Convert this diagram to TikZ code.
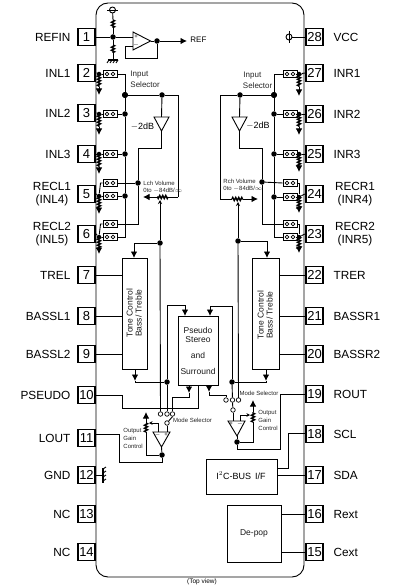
\documentclass[tikz,border=0pt]{standalone}
\usepackage{fontspec}
\setmainfont{Liberation Sans}
\usetikzlibrary{arrows.meta,decorations.pathmorphing}
\tikzset{
  x=1pt,y=-1pt,
  every path/.style={line width=0.9pt},
  pinbox/.style={draw,line width=1.8pt,minimum width=17.5pt,minimum height=17pt,inner sep=0pt,font=\fontsize{13}{14}\selectfont,fill=white},
  pinlab/.style={font=\fontsize{11.8}{13.5}\selectfont,align=center,inner sep=0pt},
  sel/.style={font=\fontsize{8}{9}\selectfont,inner sep=0pt,text=black!85},
  tiny/.style={font=\fontsize{6}{7}\selectfont,inner sep=0pt,text=black!85},
  small/.style={font=\fontsize{8.5}{10}\selectfont,inner sep=0pt,text=black!90},
  jn/.style={circle,fill=black,inner sep=0pt,minimum size=5.5pt},
  oc/.style={circle,draw,fill=white,inner sep=0pt,minimum size=4.5pt,line width=0.7pt},
  swbox/.style={draw,minimum width=14pt,minimum height=6.5pt,inner sep=0pt,line width=0.9pt},
  block/.style={draw,inner sep=0pt,line width=0.9pt},
  zz/.style={decorate,decoration={zigzag,amplitude=1.6pt,segment length=3pt},line width=1.4pt},
  arr/.style={-{Latex[length=6.5pt,width=6.5pt]}},
  amp/.style={draw,line width=0.9pt,fill=white},
}
\newcommand{\swi}[3]{\node[swbox] (#1) at (#2,#3) {};
  \draw[line width=0.7pt] ([xshift=-3pt]#1.center) circle[radius=1.9pt] ([xshift=3pt]#1.center) circle[radius=1.9pt];}
\newcommand{\resdown}[2]{% node, tip distance
  \path (#1) coordinate (tmpa);
  \draw[zz] (tmpa) -- ([yshift=-13pt]tmpa);
  \draw[arr] ([yshift=-13pt]tmpa) -- ([yshift=-#2pt]tmpa);}
\begin{document}
\begin{tikzpicture}
\useasboundingbox (0,0) rectangle (401,585);
\fill[white] (0,0) rectangle (401,585);
% package
\draw[line width=0.9pt,rounded corners=12pt] (96,3) rectangle (304,577);
% left pins
\foreach \n/\yy in {1/37,2/73,3/113,4/154,5/194,6/234,7/275,8/316,9/354,10/395,11/438,12/475,13/514,14/552}
  \node[pinbox] (p\n) at (86.5,\yy) {\n};
% right pins
\foreach \n/\yy in {28/37,27/73,26/114,25/154,24/194,23/234,22/275,21/316,20/354,19/394,18/434,17/475,16/514,15/552}
  \node[pinbox] (p\n) at (314.5,\yy) {\n};
% left labels
\foreach \n/\t in {1/REFIN,2/INL1,3/INL2,4/INL3,7/TREL,8/BASSL1,9/BASSL2,10/PSEUDO,11/LOUT,12/GND,13/NC,14/NC}
  \node[pinlab,anchor=east] (ll\n) at ([xshift=-6pt]p\n.west) {\t};
\node[pinlab] (ll5) at (52,194) {RECL1\\(INL4)};
\node[pinlab] (ll6) at (52,234) {RECL2\\(INL5)};
% right labels
\foreach \n/\t in {28/VCC,27/INR1,26/INR2,25/INR3,22/TRER,21/BASSR1,20/BASSR2,19/ROUT,18/SCL,17/SDA,16/Rext,15/Cext}
  \node[pinlab,anchor=west] (rl\n) at ([xshift=9pt]p\n.east) {\t};
\node[pinlab] (rl24) at (355,194) {RECR1\\(INR4)};
\node[pinlab] (rl23) at (355,234) {RECR2\\(INR5)};
% reference section
\node[circle,draw,inner sep=0pt,minimum size=6pt] (vt) at (112.5,10) {};
\draw (107,10) -- (118,10);
\node[jn] (j1) at (113,37) {};
\coordinate (g1) at (113,60);
\draw (p1.east) -- (j1);
\draw (vt) -- (113,20); \draw (113,28) -- (j1);
\draw[zz] (113,20) -- (113,28);
\draw (j1) -- (113,45); \draw (113,53) -- (g1);
\draw[zz] (113,45) -- (113,53);
\draw[line width=1.2pt] (108,60) -- (118,60);
\foreach \q in {109,112,115,118} \draw (\q,60) -- (\q-2,63);
\draw[amp] (133,32) -- (150.5,41) -- (133,50) -- cycle;
\node[font=\fontsize{6}{6}\selectfont,inner sep=0pt] (pl) at (136,37) {+};
\node[font=\fontsize{6}{6}\selectfont,inner sep=0pt] (mi) at (136,45.5) {$-$};
\node[jn] (j2) at (157,41) {};
\coordinate (refc) at (187,41);
\draw (j1) -- (133,37);
\draw (150.5,41) -- (j2);
\draw[arr] (j2) -- (refc);
\draw (j2) -- (157,58) -- (125,58) -- (125,46) -- (133,46);
\node[font=\fontsize{8}{9}\selectfont,inner sep=0pt,anchor=west] (reft) at (190,40) {REF};
% VCC
\node[circle,draw,inner sep=0pt,minimum size=6pt] (vc) at (289,37) {};
\draw (289,31) -- (289,43);
\draw (vc) -- (p28.west);
% left input switches
\foreach \n/\yy in {2/74,3/114,4/154,5/196,6/237} {
  \node[jn,minimum size=4.5pt] (pj\n) at (99,\yy) {};
}
\draw (p2.east) -- (pj2); \draw (p3.east) -- (pj3); \draw (p4.east) -- (pj4);
\draw (p5.east) -- (pj5); \draw (p6.east) -- (pj6);
\swi{sa}{110}{74}\swi{sb}{110}{114}\swi{sc}{110}{154}\swi{sd}{110}{183}\swi{se}{110}{196}\swi{sf}{110}{224}\swi{sg}{110}{237}
\draw (pj2) -- (sa.west); \draw (pj3) -- (sb.west); \draw (pj4) -- (sc.west); \draw (pj5) -- (se.west); \draw (pj6) -- (sg.west);
\draw (sd.west) -- (100.5,183) -- (pj5); \draw (sf.west) -- (100.5,224) -- (pj6);
\foreach \a/\b in {pj2/21,pj3/21,pj4/20,pj5/18,pj6/17} \resdown{\a}{\b}
% left bus
\node[jn] (ba) at (125,95) {};
\node[jn] (bb) at (125,114) {};
\node[jn] (bc) at (125,154) {};
\node[jn] (bd) at (125,196) {};
\draw (sa.east) -- (125,74) -- (ba) -- (bb) -- (bc) -- (bd) -- (125,237) -- (sg.east);
\draw (sb.east) -- (bb); \draw (sc.east) -- (bc); \draw (se.east) -- (bd);
\node[jn] (bt) at (162,95) {};
\draw (ba) -- (bt) -- (178,95) -- (178,197) coordinate (volr);
\draw[amp] (154,117) -- (169,117) -- (161.5,131) -- cycle;
\draw (bt) -- (161.5,117);
\node[jn] (be) at (138,183) {};
\draw (161.5,131) -- (161.5,148) -- (138,148) -- (be) -- (138,224) -- (sf.east);
\draw (sd.east) -- (be);
\node[font=\fontsize{9}{9}\selectfont,inner sep=0pt] (dbl) at (142.5,127) {$-$2dB};
\node[sel,anchor=west] (isl1) at (130,75) {Input};
\node[sel,anchor=west] (isl2) at (130,85) {Selector};
\node[tiny,anchor=west] (lv1) at (143,183) {Lch Volume};
\node[tiny,anchor=west] (lv2) at (143,190.5) {0to $-$84dB/$\infty$};
% left volume
\coordinate (lvm) at (168,197);
\draw (volr) -- (lvm);
\draw[zz] (lvm) -- (157,197);
\draw[arr] (157,197) -- (143,197);
\node[jn] (lw) at (160,243) {};
\draw[-{Stealth[length=4pt,width=4pt,open]}] (lw) -- (160,200);
\draw[arr] (lw) -- (134,243) -- (134,258);
% right input switches
\foreach \n/\yy in {27/74,26/114,25/154,24/197,23/237} {
  \node[jn,minimum size=4.5pt] (pj\n) at (299,\yy) {};
}
\draw (p27.west) -- (pj27); \draw (p26.west) -- (pj26); \draw (p25.west) -- (pj25);
\draw (p24.west) -- (pj24); \draw (p23.west) -- (pj23);
\swi{ra}{290}{74}\swi{rb}{290}{114}\swi{rc}{290}{154}\swi{rd}{290}{183}\swi{re}{290}{197}\swi{rf}{290}{224}\swi{rg}{290}{237}
\draw (pj27) -- (ra.east); \draw (pj26) -- (rb.east); \draw (pj25) -- (rc.east); \draw (pj24) -- (re.east); \draw (pj23) -- (rg.east);
\draw (rd.east) -- (299,183) -- (pj24); \draw (rf.east) -- (299,224) -- (pj23);
\foreach \a/\b in {pj27/22,pj26/21,pj25/18,pj24/16,pj23/16} \resdown{\a}{\b}
\node[jn] (ca) at (274,95) {};
\node[jn] (cb) at (274,114) {};
\node[jn] (cc) at (274,154) {};
\node[jn] (cd) at (274,197) {};
\draw (ra.west) -- (274,74) -- (ca) -- (cb) -- (cc) -- (cd) -- (274,237) -- (rg.west);
\draw (rb.west) -- (cb); \draw (rc.west) -- (cc); \draw (re.west) -- (cd);
\node[jn] (ct) at (240,95) {};
\draw (ca) -- (ct) -- (220,95) -- (220,199) -- (232,199) coordinate (rvl);
\draw[amp] (232,117) -- (247,117) -- (239.5,131) -- cycle;
\draw (ct) -- (239.5,117);
\node[jn] (ce) at (262,182) {};
\draw (239.5,131) -- (239.5,148) -- (262,148) -- (ce) -- (262,224) -- (rf.west);
\draw (rd.west) -- (ce);
\node[font=\fontsize{9}{9}\selectfont,inner sep=0pt] (dbr) at (258,126) {$-$2dB};
\node[sel,anchor=west] (isr1) at (243,76) {Input};
\node[sel,anchor=west] (isr2) at (242.5,86) {Selector};
\node[tiny,anchor=west] (rv1) at (223,181) {Rch Volume};
\node[tiny,anchor=west] (rv2) at (223,188.5) {0to $-$84dB/$\infty$};
\draw[zz] (rvl) -- (243,199);
\draw[arr] (243,199) -- (258,199);
\node[jn] (rw) at (238,241) {};
\draw[-{Stealth[length=4pt,width=4pt,open]}] (rw) -- (238,202);
\draw[arr] (rw) -- (267,241) -- (267,258);
% tone blocks
\node[block,minimum width=25pt,minimum height=111pt,anchor=north west] (tl) at (122,258) {};
\node[block,minimum width=27pt,minimum height=111pt,anchor=north west] (tr) at (252,258) {};
\node[small,rotate=90,align=center,font=\fontsize{8.5}{9}\selectfont] (tlt) at (134,313) {Tone Control\\Bass/ Treble};
\node[small,rotate=90,align=center,font=\fontsize{8.5}{9}\selectfont] (trt) at (265,315) {Tone Control\\Bass/ Treble};
\draw (p7.east) -- (122,275); \draw (p8.east) -- (122,316); \draw (p9.east) -- (122,354);
\draw (p22.west) -- (279,275); \draw (p21.west) -- (279,316); \draw (p20.west) -- (279,354);
% pseudo block
\node[block,minimum width=40pt,minimum height=69pt,anchor=north west] (ps) at (178,316) {};
\node[small] (pst1) at (198,330) {Pseudo};
\node[small] (pst2) at (198,340) {Stereo};
\node[small] (pst3) at (198,355) {and};
\node[small] (pst4) at (198,371) {Surround};
\node[jn] (jl) at (167,382) {};
\node[jn] (jr) at (232,382) {};
\draw[arr] (135,369) -- (135,381);
\draw (135,381) -- (135,382) -- (jl);
\draw[arr] (jl) -- (167,305) -- (185,305) -- (185,316);
\draw[arr] (266,369) -- (266,381);
\draw (266,381) -- (266,382) -- (jr);
\draw[arr] (jr) -- (232,306) -- (210,306) -- (210,316);
% mode selector left
\node[oc] (ml1) at (160.5,414) {};
\node[oc] (ml2) at (167,414) {};
\node[oc] (ml3) at (172.5,414) {};
\node[oc] (ml4) at (167,423) {};
\draw (lw) -- (ml1); \draw (160,205) -- (lw);
\draw (jl) -- (ml2);
\draw[arr] (189,385) -- (189,393);
\draw (189,393) -- (189,397) -- (172.5,397) -- (ml3);
\draw (ml4) -- (ml3.south);
\draw (p10.east) -- (122,395) -- (122,408) -- (198,408) -- (198,385);
% mode selector right
\node[oc] (mr1) at (226,400) {};
\node[oc] (mr2) at (232.5,400) {};
\node[oc] (mr3) at (238.5,400) {};
\node[oc] (mr4) at (233,410) {};
\draw (rw) -- (238.5,398) -- (mr3);
\draw (jr) -- (mr2);
\draw[arr] (209,385) -- (209,392);
\draw (209,392) -- (209,395) -- (226,395) -- (mr1);
\draw (mr4) -- (mr2.south);
\node[tiny] (msl) at (192.5,420.5) {Mode Selector};
\node[tiny] (msr) at (259,393) {Mode Selector};
% left output amp
\draw[amp] (153,432) -- (170,432) -- (161.5,447) -- cycle;
\node[font=\fontsize{6}{6}\selectfont,inner sep=0pt] (pll) at (166,435) {+};
\node[font=\fontsize{6}{6}\selectfont,inner sep=0pt] (mil) at (157.5,435) {$-$};
\draw (ml4) -- (167,432);
\node[jn] (ol) at (162,455) {};
\draw (161.5,447) -- (ol);
\draw (ol) -- (146,455) -- (146,432);
\draw[zz] (146,432) -- (146,423);
\draw[arr] (146,423) -- (146,412);
\draw[-{Stealth[length=3.5pt,width=3.5pt]}] (158,432) -- (158,423) -- (149,423);
\draw (ol) -- (162,462) -- (119,462) -- (119,434) -- (96,434) coordinate (p11c);
\node[tiny,anchor=west] (ogl1) at (123,431) {Output};
\node[tiny,anchor=west] (ogl2) at (123,438) {Gain};
\node[tiny,anchor=west] (ogl3) at (123,446) {Control};
% right output amp
\draw[amp] (228,421) -- (245,421) -- (237,436) -- cycle;
\node[font=\fontsize{6}{6}\selectfont,inner sep=0pt] (plr) at (231,424) {+};
\node[font=\fontsize{6}{6}\selectfont,inner sep=0pt] (mir) at (240,424) {$-$};
\draw (mr4) -- (233,421);
\node[jn] (or) at (237,442) {};
\draw (237,436) -- (or);
\draw (or) -- (253,442) -- (253,422);
\draw[zz] (253,422) -- (253,412);
\draw[arr] (253,412) -- (253,400);
\draw[-{Stealth[length=3.5pt,width=3.5pt]}] (240,421) -- (240,415) -- (250,415);
\draw (or) -- (237,449) -- (280,449) -- (280,394) -- (p19.west);
\node[tiny,anchor=west] (ogr1) at (258,413) {Output};
\node[tiny,anchor=west] (ogr2) at (258,420) {Gain};
\node[tiny,anchor=west] (ogr3) at (258,428) {Control};
% GND
\draw (p12.east) -- (103,475);
\draw[line width=1.2pt] (103,468) -- (103,483);
\foreach \q in {469,473,477,481} \draw (103,\q) -- (106,\q-2);
% I2C
\node[block,minimum width=71pt,minimum height=35pt,anchor=north west] (i2c) at (206,459) {};
\node[font=\fontsize{9}{10}\selectfont,inner sep=0pt] (i2ct) at (241,476) {I$^2$C-BUS\, I/F};
\draw (i2c.east |- p17) -- (p17.west);
\draw (277,468) -- (288,468) -- (288,433) -- (305.7,433);
% De-pop
\node[block,minimum width=54pt,minimum height=57pt,anchor=north west] (dp) at (227,505) {};
\node[small] (dpt) at (254,533) {De-pop};
\draw (dp.east |- p16) -- (p16.west);
\draw (dp.east |- p15) -- (p15.west);
% caption
\node[font=\fontsize{6.5}{7}\selectfont,inner sep=0pt,anchor=north] (cap) at (202,578.5) {(Top view)};
\end{tikzpicture}
\end{document}
